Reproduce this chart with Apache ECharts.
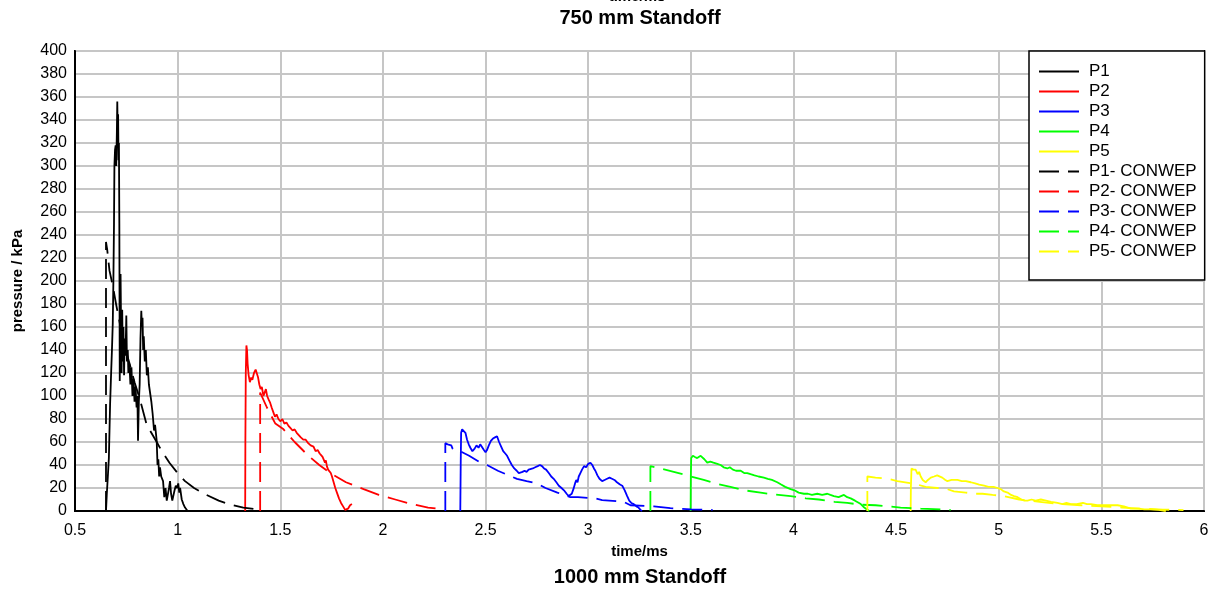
<!DOCTYPE html>
<html>
<head>
<meta charset="utf-8">
<script src="https://cdn.jsdelivr.net/npm/echarts@6/dist/echarts.min.js"></script>
<style>
  html, body { margin: 0; padding: 0; background: #ffffff; }
  #chart { width: 1217px; height: 590px; }
</style>
</head>
<body>
<div id="chart"></div>
<script>
// Measured blast pressure traces (time in ms, pressure in kPa)
const p1 = [[0.651,0],[0.655,15],[0.660,30],[0.665,46],[0.671,93],[0.676,120],[0.680,140],[0.684,163],[0.687,200],[0.690,250],[0.692,300],[0.695,314],[0.698,318],[0.701,300],[0.704,330],[0.706,356],[0.708,330],[0.710,345],[0.712,305],[0.714,320],[0.716,250],[0.718,113],[0.720,180],[0.722,206],[0.725,150],[0.727,120],[0.730,175],[0.733,130],[0.736,160],[0.739,118],[0.742,150],[0.746,135],[0.750,170],[0.753,130],[0.757,140],[0.760,120],[0.765,128],[0.770,110],[0.775,125],[0.780,100],[0.785,115],[0.790,95],[0.795,108],[0.800,90],[0.804,100],[0.807,61],[0.811,95],[0.815,110],[0.819,150],[0.823,174],[0.826,160],[0.829,168],[0.832,140],[0.835,152],[0.840,130],[0.845,140],[0.850,118],[0.855,125],[0.860,110],[0.866,111],[0.872,95],[0.878,85],[0.885,70],[0.890,75],[0.898,61],[0.902,40],[0.906,45],[0.910,30],[0.914,38],[0.920,30],[0.929,26],[0.935,12],[0.941,20],[0.947,9],[0.952,14],[0.958,20],[0.963,26],[0.968,15],[0.974,9],[0.979,10],[0.985,18],[0.991,22],[0.997,20],[1.003,24],[1.008,16],[1.012,20],[1.020,10],[1.028,6],[1.036,3],[1.044,1],[1.051,0]];
const p2 = [[1.329,0],[1.330,60],[1.332,120],[1.335,144],[1.338,140],[1.341,128],[1.346,118],[1.352,112],[1.358,116],[1.364,114],[1.372,120],[1.380,123],[1.386,122],[1.392,116],[1.398,110],[1.404,106],[1.410,108],[1.418,100],[1.424,103],[1.430,106],[1.436,100],[1.443,97],[1.451,94],[1.458,90],[1.466,86],[1.474,82],[1.482,84],[1.491,80],[1.500,78],[1.510,80],[1.520,76],[1.530,77],[1.540,74],[1.550,72],[1.560,70],[1.570,71],[1.580,68],[1.590,66],[1.600,64],[1.612,62],[1.624,62],[1.636,59],[1.648,57],[1.654,58],[1.662,56],[1.672,52],[1.682,53],[1.692,50],[1.700,51],[1.706,47],[1.712,46],[1.718,42],[1.722,44],[1.727,39],[1.733,36],[1.740,35],[1.746,33],[1.752,30],[1.760,25],[1.768,20],[1.776,16],[1.786,11],[1.796,7],[1.806,4],[1.816,1],[1.822,0],[1.830,2],[1.840,5],[1.849,6]];
const p3 = [[2.377,0],[2.379,40],[2.381,68],[2.386,71],[2.394,70],[2.402,68],[2.410,62],[2.418,58],[2.426,55],[2.436,52],[2.446,54],[2.456,57],[2.466,55],[2.474,58],[2.483,57],[2.492,53],[2.500,51],[2.507,53],[2.516,57],[2.526,61],[2.536,63],[2.546,64],[2.556,65],[2.566,60],[2.576,56],[2.586,52],[2.596,50],[2.605,48],[2.616,44],[2.628,40],[2.640,37],[2.652,35],[2.662,33],[2.670,32],[2.680,34],[2.690,35],[2.700,34],[2.710,36],[2.718,36],[2.730,37],[2.742,38],[2.754,39],[2.765,40],[2.775,39],[2.785,37],[2.795,36],[2.808,33],[2.820,30],[2.832,28],[2.845,25],[2.857,22],[2.870,20],[2.882,18],[2.895,15],[2.905,13],[2.913,12],[2.920,15],[2.928,19],[2.936,24],[2.942,27],[2.948,25],[2.954,30],[2.962,33],[2.970,36],[2.980,39],[2.990,38],[3.000,41],[3.006,40],[3.011,42],[3.020,40],[3.028,37],[3.035,35],[3.045,31],[3.055,28],[3.068,26],[3.080,27],[3.092,28],[3.104,29],[3.116,28],[3.128,27],[3.140,25],[3.155,23],[3.166,22],[3.178,18],[3.190,13],[3.200,9],[3.210,7],[3.222,6],[3.235,4],[3.245,3],[3.255,1],[3.262,0]];
const p4 = [[3.499,0],[3.500,30],[3.502,46],[3.510,48],[3.520,47],[3.531,46],[3.540,47],[3.548,48],[3.556,48],[3.566,45],[3.580,42],[3.595,43],[3.610,42],[3.629,41],[3.645,40],[3.660,38],[3.678,37],[3.690,38],[3.705,36],[3.720,35],[3.743,35],[3.760,33],[3.775,33],[3.791,32],[3.810,31],[3.830,30],[3.856,29],[3.875,28],[3.895,27],[3.921,25],[3.940,23],[3.960,21],[3.986,19],[4.005,18],[4.025,16],[4.051,15],[4.070,15],[4.090,14],[4.116,15],[4.140,14],[4.165,15],[4.180,14],[4.197,13],[4.220,12],[4.246,14],[4.262,12],[4.279,11],[4.300,9],[4.328,6],[4.345,3],[4.360,1],[4.370,0]];
const p5 = [[4.571,0],[4.572,20],[4.575,37],[4.585,36],[4.595,36],[4.605,32],[4.612,34],[4.620,30],[4.630,27],[4.644,25],[4.655,27],[4.669,29],[4.685,30],[4.700,31],[4.709,31],[4.725,29],[4.740,27],[4.750,26],[4.770,27],[4.785,27],[4.799,27],[4.820,26],[4.840,26],[4.864,25],[4.885,24],[4.905,23],[4.929,22],[4.950,21],[4.975,21],[4.994,20],[5.010,19],[5.025,17],[5.043,16],[5.060,14],[5.075,13],[5.092,12],[5.110,10],[5.125,9],[5.140,9],[5.160,10],[5.180,9],[5.205,10],[5.230,9],[5.255,8],[5.286,7],[5.310,6],[5.330,7],[5.351,6],[5.380,6],[5.410,7],[5.430,6],[5.449,6],[5.480,5],[5.514,5],[5.545,5],[5.579,5],[5.610,4],[5.644,2],[5.680,2],[5.710,1.5],[5.741,1.5],[5.780,1],[5.814,0]];

// CONWEP predictions for the same gauges
const p1Conwep = [[0.651,0],[0.651,234],[0.657,227],[0.668,209],[0.685,195],[0.700,180],[0.725,157],[0.750,138],[0.766,128],[0.790,112],[0.815,98],[0.849,75],[0.898,60],[0.923,52],[0.960,42],[1.004,32],[1.036,26],[1.080,20],[1.134,14.5],[1.200,9],[1.250,6],[1.320,3],[1.400,1]];
const p2Conwep = [[1.402,0],[1.402,103],[1.435,90],[1.476,76],[1.516,71],[1.570,60],[1.637,48],[1.690,40],[1.743,33],[1.820,25],[1.906,19],[1.980,14],[2.060,10],[2.140,6],[2.220,3],[2.300,1.5]];
const p3Conwep = [[2.304,0],[2.304,59],[2.315,58],[2.333,57],[2.340,54],[2.377,52],[2.420,48],[2.475,42],[2.507,40],[2.560,35],[2.613,31],[2.653,28],[2.700,26],[2.751,24],[2.792,20],[2.850,16],[2.913,12],[2.950,12],[3.035,11],[3.068,9.5],[3.173,8],[3.206,5],[3.320,4],[3.400,2.5],[3.500,1.5],[3.606,1]];
const p4Conwep = [[3.303,0],[3.303,39],[3.350,37],[3.417,34],[3.480,31],[3.563,27],[3.620,24],[3.693,21],[3.760,18],[3.840,16],[3.900,14.5],[3.986,13],[4.060,11],[4.124,10],[4.200,8],[4.262,7],[4.330,5.5],[4.400,5],[4.460,4],[4.522,3],[4.620,2],[4.766,1]];
const p5Conwep = [[4.360,0],[4.360,30],[4.400,29],[4.465,28],[4.506,26],[4.560,24.5],[4.604,23],[4.644,21],[4.700,20],[4.750,19],[4.782,17],[4.840,16],[4.888,15],[4.921,15],[4.970,14],[5.026,13],[5.100,10],[5.200,8],[5.300,6],[5.400,5],[5.500,4],[5.600,3],[5.700,2],[5.800,1.2],[5.900,0.8]];

const seriesNames = ['P1', 'P2', 'P3', 'P4', 'P5', 'P1- CONWEP', 'P2- CONWEP', 'P3- CONWEP', 'P4- CONWEP', 'P5- CONWEP'];
const seriesData = [p1, p2, p3, p4, p5, p1Conwep, p2Conwep, p3Conwep, p4Conwep, p5Conwep];
const gaugeColors = ['#000000', '#ff0000', '#0000ff', '#00ff00', '#ffff00'];

const FONT = '"Liberation Sans", Arial, sans-serif';

const chart = echarts.init(document.getElementById('chart'), null, { renderer: 'canvas' });

const series = seriesNames.map((name, i) => ({
  name: name,
  type: 'line',
  data: seriesData[i],
  symbol: 'none',
  showSymbol: false,
  animation: false,
  z: 2 + i,
  lineStyle: {
    color: gaugeColors[i % 5],
    width: 1.8,
    type: i < 5 ? 'solid' : [20, 9]
  },
  itemStyle: { color: gaugeColors[i % 5] }
}));

chart.setOption({
  backgroundColor: '#ffffff',
  animation: false,
  grid: {
    left: 75, right: 13, top: 51, bottom: 79,
    show: true, borderColor: '#000000', borderWidth: 2, backgroundColor: 'transparent'
  },
  legend: {
    data: seriesNames,
    orient: 'vertical',
    left: 1029, top: 51,
    padding: [12, 8, 20, 9],
    itemWidth: 40, itemHeight: 14, itemGap: 3,
    itemStyle: { opacity: 0 },
    backgroundColor: '#ffffff',
    borderColor: '#000000', borderWidth: 1.5,
    textStyle: { fontFamily: FONT, fontSize: 17, color: '#000000', padding: [0, 0, 0, 5] }
  },
  xAxis: {
    type: 'value', min: 0.5, max: 6, interval: 0.5,
    name: 'time/ms', nameLocation: 'middle', nameGap: 33,
    nameTextStyle: { fontFamily: FONT, fontSize: 15, fontWeight: 'bold', color: '#000000' },
    axisLine: { show: true, onZero: false, lineStyle: { color: '#000000', width: 2 } },
    axisTick: { show: false },
    axisLabel: { fontFamily: FONT, fontSize: 16, color: '#000000', margin: 12 },
    splitLine: { show: true, lineStyle: { color: '#c6c6c6', width: 2 } }
  },
  yAxis: {
    type: 'value', min: 0, max: 400, interval: 20,
    name: 'pressure / kPa', nameLocation: 'middle', nameGap: 50, nameRotate: 90,
    nameTextStyle: { fontFamily: FONT, fontSize: 15, fontWeight: 'bold', color: '#000000' },
    axisLine: { show: true, lineStyle: { color: '#000000', width: 2 } },
    axisTick: { show: false },
    axisLabel: { fontFamily: FONT, fontSize: 16, color: '#000000', margin: 8 },
    splitLine: { show: true, lineStyle: { color: '#c6c6c6', width: 2 } }
  },
  graphic: [
    { type: 'text', style: { text: 'time/ms', x: 637, y: 4, align: 'center', verticalAlign: 'bottom', font: 'bold 15px ' + FONT, fill: '#000000' } },
    { type: 'text', style: { text: '750 mm Standoff', x: 640, y: 18, align: 'center', verticalAlign: 'middle', font: 'bold 20px ' + FONT, fill: '#000000' } },
    { type: 'text', style: { text: '1000 mm Standoff', x: 640, y: 577, align: 'center', verticalAlign: 'middle', font: 'bold 20px ' + FONT, fill: '#000000' } }
  ],
  series: series
});
</script>
</body>
</html>
